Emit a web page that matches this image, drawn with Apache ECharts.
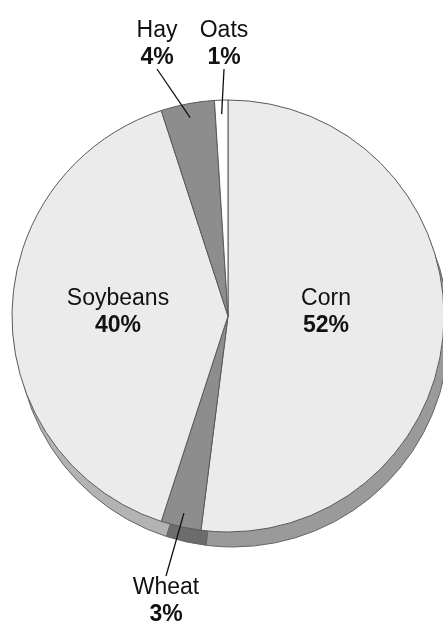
<!DOCTYPE html>
<html>
<head>
<meta charset="utf-8">
<script src="https://cdn.jsdelivr.net/npm/echarts@6/dist/echarts.min.js"></script>
<style>
html,body{margin:0;padding:0;background:#ffffff;}
#chart{width:443px;height:628px;}
</style>
</head>
<body>
<div id="chart"></div>
<script>
// Data
const categories = ['Corn', 'Wheat', 'Soybeans', 'Hay', 'Oats'];
const shares = [52, 3, 40, 4, 1];
const insideCats = ['Corn', 'Soybeans'];
const outsideCats = ['Wheat', 'Hay', 'Oats'];

// Styles
const faceColors = { Corn: '#ebebeb', Wheat: '#8d8d8d', Soybeans: '#ebebeb', Hay: '#8d8d8d', Oats: '#ffffff' };
const rimColors = { Corn: '#9a9a9a', Wheat: '#6c6c6c', Soybeans: '#b3b3b3', Hay: '#6c6c6c', Oats: '#cccccc' };
const labelPos = {
  Corn: [326, 312], Soybeans: [118, 312],
  Hay: [167, 44], Oats: [224, 44], Wheat: [166, 601]
};
const labelPad = { Hay: [0, 20, 0, 0] };

const CX = 228, CY = 316, R = 216;
const FONT = '"Liberation Sans", Arial, Helvetica, sans-serif';
const rich = {
  n: { fontFamily: FONT, fontSize: 23, color: '#111', lineHeight: 27 },
  p: { fontFamily: FONT, fontSize: 23, fontWeight: 'bold', color: '#111', lineHeight: 27 }
};

const chart = echarts.init(document.getElementById('chart'));

const baseData = categories.map((c, i) => ({ name: c, value: shares[i] }));

chart.setOption({
  backgroundColor: '#ffffff',
  animation: false,
  series: [
    { // 3D rim
      type: 'pie', silent: true, clockwise: true, startAngle: 90,
      center: [CX + 5, CY + 15], radius: [0, R],
      label: { show: false }, labelLine: { show: false },
      data: baseData.map(d => ({ ...d, itemStyle: { color: rimColors[d.name], borderColor: '#666', borderWidth: 1 } })),
      z: 1
    },
    { // top face
      type: 'pie', silent: true, clockwise: true, startAngle: 90,
      center: [CX, CY], radius: [0, R],
      itemStyle: { borderColor: '#5a5a5a', borderWidth: 1 },
      labelLine: { show: false },
      data: baseData.map(d => ({
        ...d,
        itemStyle: { color: faceColors[d.name] },
        label: {
          show: insideCats.includes(d.name), position: 'inside',
          formatter: '{n|{b}}\n{p|{c}%}', rich: rich
        }
      })),
      labelLayout: function (p) {
        const pos = labelPos[categories[p.dataIndex]];
        return { x: pos[0], y: pos[1], align: 'center', verticalAlign: 'middle' };
      },
      z: 2
    },
    { // callout labels for small slices
      type: 'pie', silent: true, clockwise: true, startAngle: 90,
      center: [CX, CY], radius: [0, R - 14],
      itemStyle: { color: 'rgba(0,0,0,0)', borderWidth: 0 },
      data: baseData.map(d => ({
        ...d,
        label: {
          show: outsideCats.includes(d.name), position: 'outside',
          formatter: '{n|{b}}\n{p|{c}%}', rich: rich,
          padding: labelPad[d.name] || 0
        },
        labelLine: {
          show: outsideCats.includes(d.name), length: 30, length2: 0,
          lineStyle: { color: '#111', width: 1.3 }
        }
      })),
      labelLine: { length: 30, length2: 0 },
      labelLayout: function (p) {
        const pos = labelPos[categories[p.dataIndex]];
        return { x: pos[0], y: pos[1], align: 'center', verticalAlign: 'middle' };
      },
      z: 3
    }
  ]
});
</script>
</body>
</html>
